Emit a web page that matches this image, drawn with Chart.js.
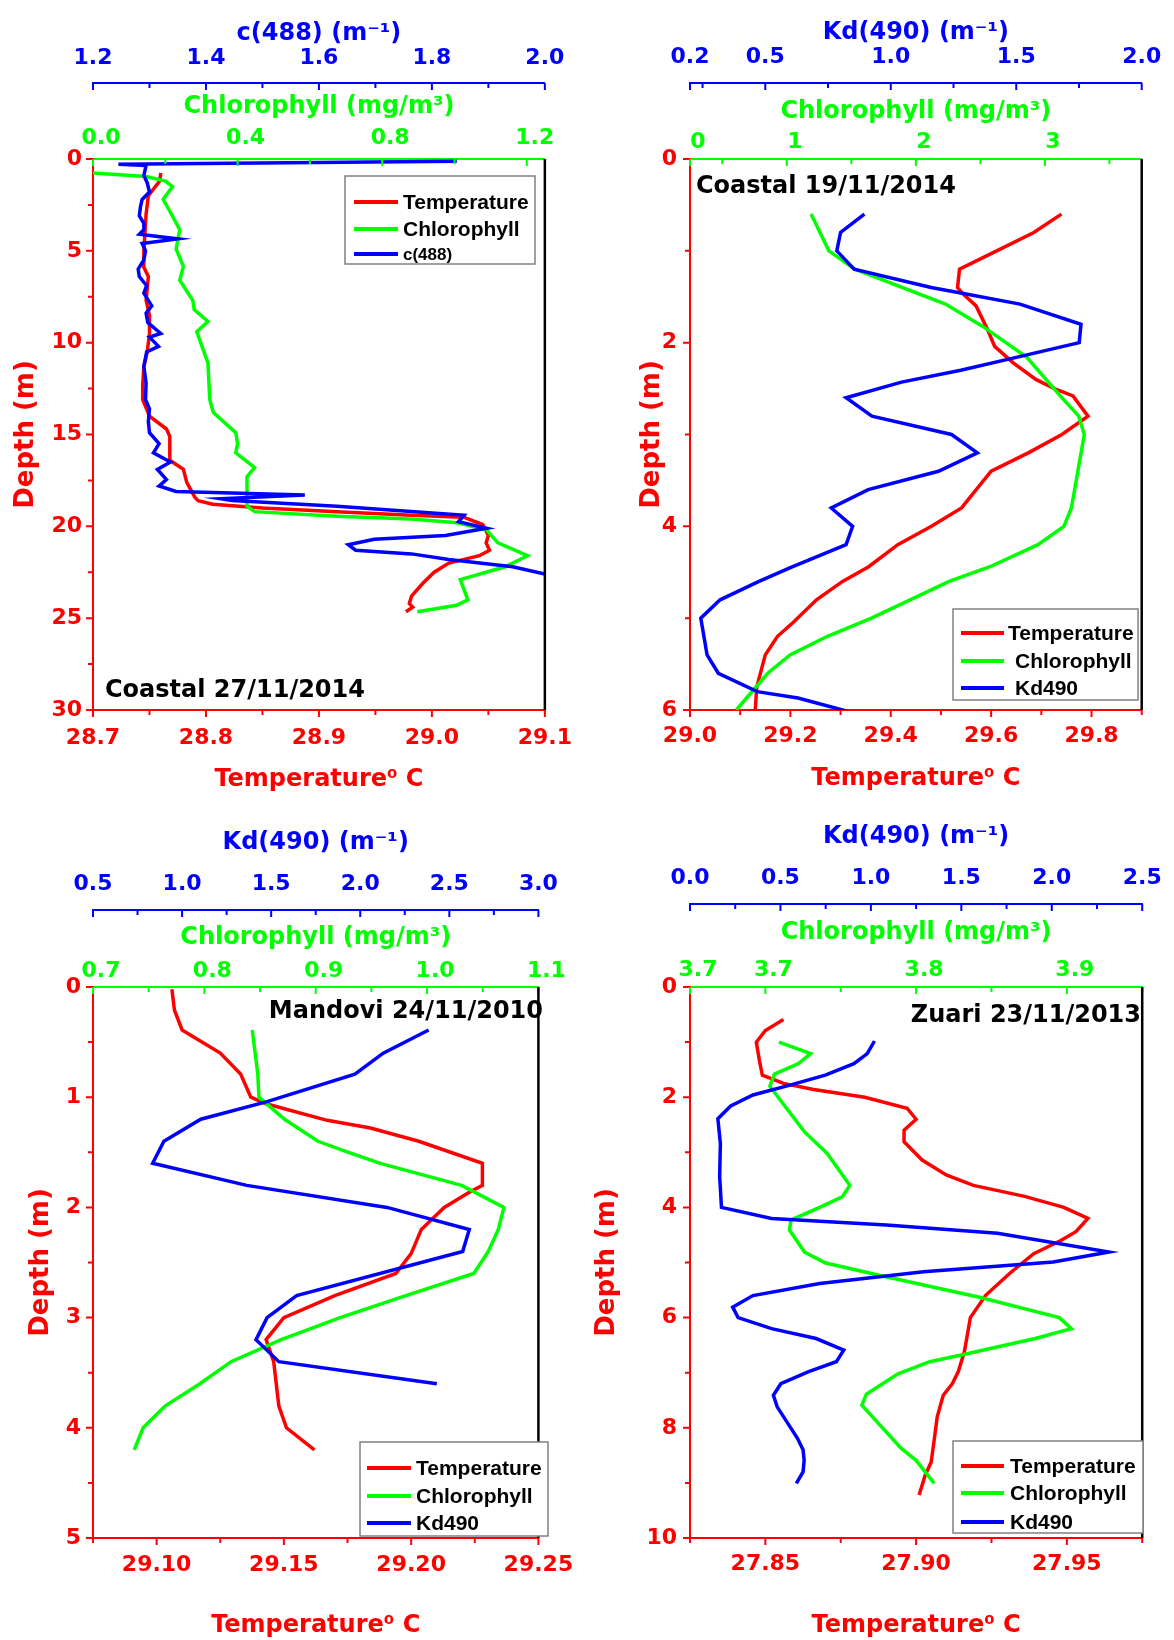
<!DOCTYPE html>
<html>
<head>
<meta charset="utf-8">
<title>Depth profiles</title>
<script src="https://cdn.jsdelivr.net/npm/chart.js@4.4.1/dist/chart.umd.min.js"></script>
<style>
  body { margin: 0; background: #fff; }
  #wrap { position: relative; width: 1174px; height: 1640px; overflow: hidden; }
  canvas { position: absolute; }
</style>
</head>
<body>
<div id="wrap">
  <canvas id="c1" width="587" height="800" style="left:0;top:0"></canvas>
  <canvas id="c2" width="587" height="800" style="left:587px;top:0"></canvas>
  <canvas id="c3" width="587" height="840" style="left:0;top:800px"></canvas>
  <canvas id="c4" width="587" height="840" style="left:587px;top:800px"></canvas>
</div>
<script>
// Coastal 27/11/2014
const c27TempDepth = [0.76,1.2,2.0,3.0,4.0,5.0,5.9,6.4,7.7,8.5,9.5,10.5,11.3,12.3,13.1,14.0,14.7,15.1,16.4,16.9,17.6,18.4,18.6,18.8,19.0,19.2,19.4,19.5,19.9,20.5,20.9,21.3,21.6,22.0,22.5,23.1,23.8,24.2,24.4,24.65];
const c27Temp = [28.760,28.759,28.749,28.747,28.746,28.745,28.745,28.749,28.747,28.750,28.750,28.748,28.745,28.744,28.744,28.750,28.765,28.768,28.768,28.780,28.783,28.790,28.793,28.806,28.850,28.916,28.982,29.028,29.045,29.050,29.048,29.051,29.042,29.015,29.002,28.992,28.982,28.980,28.983,28.977];
const c27ChlDepth = [0.76,0.95,1.2,1.5,2.2,2.9,3.85,4.9,5.85,6.6,7.7,8.2,8.85,9.4,11.1,13.1,13.8,14.9,15.5,16.0,16.8,17.3,18.9,19.2,19.45,19.6,19.8,20.2,20.9,21.6,22.2,22.9,24.0,24.3,24.65];
const c27Chl = [0.0,0.147,0.20,0.22,0.194,0.214,0.24,0.23,0.25,0.24,0.276,0.28,0.318,0.287,0.318,0.323,0.333,0.395,0.40,0.395,0.447,0.426,0.426,0.447,0.675,0.88,1.006,1.089,1.12,1.202,1.14,1.016,1.037,1.006,0.897];
const c27C488Depth = [0.12,0.28,0.35,0.9,1.3,1.8,2.2,2.6,3.1,3.5,3.85,4.1,4.35,4.6,5.0,5.5,6.0,6.4,6.9,7.3,8.0,8.4,8.9,9.5,9.7,10.2,10.5,11.3,12.2,13.1,13.6,14.3,14.9,15.5,16.0,16.5,16.9,17.45,17.8,18.1,18.3,18.5,18.6,18.9,19.4,19.75,20.1,20.5,20.7,21.0,21.3,21.5,21.8,22.2,22.6,22.7];
const c27C488 = [1.844,1.245,1.294,1.29,1.296,1.30,1.287,1.284,1.282,1.29,1.29,1.282,1.35,1.287,1.293,1.29,1.28,1.282,1.295,1.29,1.304,1.294,1.297,1.32,1.30,1.316,1.295,1.29,1.294,1.293,1.30,1.298,1.30,1.317,1.307,1.337,1.314,1.33,1.317,1.347,1.575,1.426,1.446,1.632,1.857,1.847,1.897,1.824,1.698,1.652,1.665,1.764,1.83,1.943,2.0,2.02];

// Coastal 19/11/2014
const c19TempDepth = [0.6,0.8,1.02,1.2,1.4,1.49,1.6,1.86,2.04,2.22,2.4,2.5,2.58,2.8,3.0,3.2,3.4,3.8,4.0,4.2,4.44,4.6,4.8,5.04,5.2,5.4,5.75,6.0];
const c19Temp = [29.74,29.685,29.604,29.537,29.533,29.548,29.57,29.593,29.607,29.644,29.689,29.726,29.763,29.793,29.741,29.674,29.60,29.541,29.481,29.414,29.356,29.304,29.252,29.207,29.174,29.15,29.133,29.13];
const c19ChlDepth = [0.6,1.0,1.2,1.58,1.82,2.16,2.58,2.8,3.0,3.8,4.0,4.2,4.44,4.6,5.0,5.2,5.4,5.6,6.0];
const c19Chl = [1.188,1.326,1.527,2.229,2.516,2.86,3.119,3.262,3.305,3.205,3.147,2.946,2.574,2.258,1.656,1.311,1.025,0.852,0.609];
const c19KdDepth = [0.6,0.8,1.0,1.2,1.4,1.46,1.58,1.8,2.0,2.16,2.3,2.43,2.6,2.8,3.0,3.2,3.4,3.6,3.8,4.0,4.2,4.45,4.6,4.8,5.0,5.4,5.6,5.8,5.87,6.02];
const c19Kd = [0.895,0.80,0.785,0.854,1.161,1.279,1.515,1.758,1.751,1.50,1.279,1.043,0.822,0.925,1.242,1.345,1.19,0.91,0.763,0.848,0.822,0.60,0.475,0.32,0.243,0.268,0.313,0.468,0.63,0.836];

// Mandovi 24/11/2010
const manTempDepth = [0.02,0.21,0.39,0.6,0.79,1.0,1.06,1.21,1.28,1.4,1.6,1.8,1.86,2.0,2.2,2.42,2.6,2.8,3.0,3.2,3.4,3.8,4.0,4.2];
const manTemp = [29.106,29.107,29.110,29.125,29.133,29.137,29.143,29.167,29.184,29.203,29.228,29.228,29.223,29.213,29.204,29.20,29.194,29.17,29.15,29.143,29.146,29.148,29.151,29.162];
const manChlDepth = [0.39,0.79,1.0,1.06,1.2,1.4,1.51,1.6,1.8,2.0,2.2,2.4,2.6,2.8,3.0,3.2,3.4,3.6,3.8,4.0,4.2];
const manChl = [0.843,0.848,0.849,0.856,0.872,0.902,0.932,0.958,1.031,1.069,1.064,1.055,1.042,0.981,0.922,0.869,0.824,0.796,0.765,0.745,0.737];
const manKdDepth = [0.39,0.6,0.79,1.04,1.2,1.4,1.6,1.8,2.0,2.2,2.4,2.8,3.0,3.2,3.4,3.6];
const manKd = [2.384,2.129,1.97,1.477,1.105,0.898,0.835,1.363,2.15,2.612,2.575,1.643,1.477,1.415,1.543,2.43];

// Zuari 23/11/2013
const zuaTempDepth = [0.59,0.79,1.0,1.33,1.6,1.75,1.86,2.0,2.2,2.4,2.6,2.81,3.14,3.41,3.6,3.8,4.0,4.2,4.44,4.6,4.84,5.2,5.6,6.0,6.62,6.98,7.2,7.41,7.8,8.22,8.62,8.86,9.22];
const zuaTemp = [27.856,27.850,27.847,27.848,27.849,27.856,27.866,27.883,27.897,27.900,27.896,27.896,27.902,27.910,27.919,27.936,27.949,27.957,27.953,27.948,27.939,27.931,27.923,27.918,27.916,27.914,27.912,27.909,27.907,27.906,27.905,27.903,27.901];
const zuaChlDepth = [1.0,1.21,1.39,1.58,1.8,2.2,2.63,3.02,3.6,3.81,4.0,4.23,4.41,4.81,5.01,5.26,5.63,6.0,6.2,6.38,6.68,6.8,7.02,7.39,7.59,8.37,8.59,9.01];
const zuaChl = [3.709,3.730,3.722,3.706,3.703,3.714,3.726,3.741,3.756,3.751,3.736,3.717,3.716,3.726,3.740,3.780,3.842,3.895,3.903,3.879,3.830,3.809,3.788,3.767,3.764,3.790,3.800,3.812];
const zuaKdDepth = [0.98,1.21,1.39,1.6,1.78,1.96,2.16,2.39,2.84,3.44,4.0,4.2,4.32,4.47,4.81,4.99,5.17,5.38,5.6,5.81,6.0,6.2,6.38,6.59,6.8,6.98,7.2,7.41,7.62,8.19,8.4,8.59,8.8,9.01];
const zuaKd = [1.02,0.98,0.906,0.748,0.553,0.348,0.225,0.154,0.168,0.164,0.174,0.451,1.086,1.70,2.316,2.008,1.291,0.717,0.348,0.236,0.266,0.451,0.697,0.85,0.809,0.656,0.502,0.461,0.482,0.594,0.625,0.631,0.625,0.588];

// tick labels
const c27TempLabels = ['28.7','28.8','28.9','29.0','29.1'];
const c27ChlLabels = ['0.0','0.4','0.8','1.2'];
const c27C488Labels = ['1.2','1.4','1.6','1.8','2.0'];
const c27DepthLabels = ['0','5','10','15','20','25','30'];
const c19TempLabels = ['29.0','29.2','29.4','29.6','29.8'];
const c19ChlLabels = ['0','1','2','3'];
const c19ChlLabelAt = [0.25, 1, 2, 3];
const c19KdLabels = ['0.2','0.5','1.0','1.5','2.0'];
const c19DepthLabels = ['0','2','4','6'];
const manTempLabels = ['29.10','29.15','29.20','29.25'];
const manChlLabels = ['0.7','0.8','0.9','1.0','1.1'];
const manKdLabels = ['0.5','1.0','1.5','2.0','2.5','3.0'];
const manDepthLabels = ['0','1','2','3','4','5'];
const zuaTempLabels = ['27.85','27.90','27.95'];
const zuaChlLabels = ['3.7','3.7','3.8','3.9'];
const zuaChlLabelAt = [3.65, 3.7, 3.8, 3.9];
const zuaKdLabels = ['0.0','0.5','1.0','1.5','2.0','2.5'];
const zuaDepthLabels = ['0','2','4','6','8','10'];

const RED = '#ff0000', GREEN = '#00ff00', BLUE = '#0000ff';
Chart.defaults.font.family = "'DejaVu Sans', sans-serif";
Chart.defaults.font.weight = 'bold';

function pts(depth, vals) {
  return vals.map((v, i) => ({ x: v, y: depth[i] }));
}

function steps(a, b, s) {
  const out = [];
  for (let i = 0; a + i * s <= b + 1e-9; i++) out.push(+(a + i * s).toFixed(4));
  return out;
}

// axis range, tick marks every `step` from `start`, labels where given
function axis(min, max, start, step, text, at) {
  const vals = at || text.map(Number);
  const marks = steps(start, max, step);
  vals.forEach(v => { if (!marks.some(m => Math.abs(m - v) < 1e-6)) marks.push(v); });
  marks.sort((a, b) => a - b);
  return {
    min, max, marks,
    label: v => {
      const i = vals.findIndex(l => Math.abs(l - v) < 1e-6);
      return i < 0 ? '' : text[i];
    }
  };
}

const panels = {
  c1: {
    temp: pts(c27TempDepth, c27Temp), chl: pts(c27ChlDepth, c27Chl), blue: pts(c27C488Depth, c27C488),
    blueName: 'c(488)', blueTitle: 'c(488) (m⁻¹)',
    tAx: axis(28.7, 29.1, 28.7, 0.05, c27TempLabels),
    cAx: axis(0, 1.25, 0, 0.2, c27ChlLabels),
    bAx: axis(1.2, 2.0, 1.2, 0.1, c27C488Labels),
    yAx: axis(0, 30, 0, 2.5, c27DepthLabels),
    L: { yW: 93, padR: 39, blueH: 83, greenH: 76, botH: 90,
         blueTitle: 19, blueTicks: 11.3, greenTitle: 9.1, greenTicks: 7.3,
         botTicks: 15, botTitle: 5.6, yTitle: 11, yTicks: 11 },
    label: { text: 'Coastal 27/11/2014', x: 105, y: 697, align: 'left' },
    legend: { x: 345, y: 176, w: 190, h: 88, rows: [202, 229, 254], lx: [354, 398], tx: 403,
              sizes: [21, 21, 17], indent: [0, 0, 0] }
  },
  c2: {
    temp: pts(c19TempDepth, c19Temp), chl: pts(c19ChlDepth, c19Chl), blue: pts(c19KdDepth, c19Kd),
    blueName: 'Kd490', blueTitle: 'Kd(490) (m⁻¹)',
    tAx: axis(29.0, 29.9, 29.0, 0.1, c19TempLabels),
    cAx: axis(0.25, 3.75, 0.5, 0.5, c19ChlLabels, c19ChlLabelAt),
    bAx: axis(0.2, 2.0, 0.25, 0.25, c19KdLabels),
    yAx: axis(0, 6, 0, 1, c19DepthLabels),
    L: { yW: 103, padR: 31, blueH: 83, greenH: 76, botH: 90,
         blueTitle: 18.6, blueTicks: 12.8, greenTitle: 14.6, greenTicks: 3.8,
         botTicks: 12.8, botTitle: 6.6, yTitle: 50, yTicks: 13 },
    label: { text: 'Coastal 19/11/2014', x: 109, y: 193, align: 'left' },
    legend: { x: 366, y: 609, w: 185, h: 91, rows: [633, 661, 688], lx: [374, 417], tx: 421,
              sizes: [21, 21, 21], indent: [0, 7, 7] }
  },
  c3: {
    temp: pts(manTempDepth, manTemp), chl: pts(manChlDepth, manChl), blue: pts(manKdDepth, manKd),
    blueName: 'Kd490', blueTitle: 'Kd(490) (m⁻¹)',
    tAx: axis(29.075, 29.25, 29.075, 0.025, manTempLabels),
    cAx: axis(0.7, 1.1, 0.7, 0.05, manChlLabels),
    bAx: axis(0.5, 3.0, 0.5, 0.25, manKdLabels),
    yAx: axis(0, 5, 0, 0.5, manDepthLabels),
    L: { yW: 93, padR: 39, blueH: 110, greenH: 77, botH: 102,
         blueTitle: 28.6, blueTicks: 12.3, greenTitle: 13.6, greenTicks: 2.8,
         botTicks: 13.8, botTitle: 0, yTitle: 26, yTicks: 12 },
    label: { text: 'Mandovi 24/11/2010', x: 543, y: 218, align: 'right' },
    legend: { x: 360, y: 642, w: 188, h: 94, rows: [668, 696, 723], lx: [367, 411], tx: 416,
              sizes: [21, 21, 21], indent: [0, 0, 0] }
  },
  c4: {
    temp: pts(zuaTempDepth, zuaTemp), chl: pts(zuaChlDepth, zuaChl), blue: pts(zuaKdDepth, zuaKd),
    blueName: 'Kd490', blueTitle: 'Kd(490) (m⁻¹)',
    tAx: axis(27.825, 27.975, 27.825, 0.025, zuaTempLabels),
    cAx: axis(3.65, 3.95, 3.65, 0.05, zuaChlLabels, zuaChlLabelAt),
    bAx: axis(0, 2.5, 0, 0.25, zuaKdLabels),
    yAx: axis(0, 10, 0, 1, zuaDepthLabels),
    L: { yW: 103, padR: 31, blueH: 104, greenH: 83, botH: 102,
         blueTitle: 22.6, blueTicks: 12.3, greenTitle: 14.6, greenTicks: 3.8,
         botTicks: 12.8, botTitle: 0, yTitle: 5, yTicks: 13 },
    label: { text: 'Zuari 23/11/2013', x: 554, y: 222, align: 'right' },
    legend: { x: 366, y: 641, w: 190, h: 92, rows: [666, 693, 722], lx: [374, 417], tx: 423,
              sizes: [21, 21, 21], indent: [0, 0, 0] }
  }
};

// tick marks (red outward, green/blue hanging down), right frame, panel title, legend box
const decor = {
  id: 'decor',
  afterDraw(chart) {
    const P = panels[chart.canvas.id];
    const ctx = chart.ctx, a = chart.chartArea;
    ctx.save();
    ctx.lineWidth = 2;
    [['x', RED], ['y', RED], ['x2', GREEN], ['x3', BLUE]].forEach(([sid, col]) => {
      const s = chart.scales[sid];
      ctx.strokeStyle = col;
      ctx.beginPath();
      s.ticks.forEach(t => {
        const len = t.label ? 7 : 5;
        const p = s.getPixelForValue(t.value);
        if (sid === 'y') { ctx.moveTo(s.right, p); ctx.lineTo(s.right - len, p); }
        else if (sid === 'x') { ctx.moveTo(p, s.top); ctx.lineTo(p, s.top + len); }
        else { ctx.moveTo(p, s.bottom); ctx.lineTo(p, s.bottom + len); }
      });
      ctx.stroke();
    });

    ctx.strokeStyle = '#000';
    ctx.lineWidth = 2.5;
    ctx.beginPath();
    ctx.moveTo(a.right, a.top);
    ctx.lineTo(a.right, a.bottom);
    ctx.stroke();

    ctx.fillStyle = '#000';
    ctx.font = "bold 24px 'DejaVu Sans'";
    ctx.textAlign = P.label.align;
    ctx.textBaseline = 'alphabetic';
    ctx.fillText(P.label.text, P.label.x, P.label.y);

    const g = P.legend;
    ctx.fillStyle = '#fff';
    ctx.fillRect(g.x, g.y, g.w, g.h);
    ctx.strokeStyle = '#808080';
    ctx.lineWidth = 1.5;
    ctx.strokeRect(g.x, g.y, g.w, g.h);
    ctx.textAlign = 'left';
    ctx.textBaseline = 'middle';
    chart.data.datasets.forEach((ds, i) => {
      ctx.strokeStyle = ds.borderColor;
      ctx.lineWidth = 4;
      ctx.beginPath();
      ctx.moveTo(g.lx[0], g.rows[i]);
      ctx.lineTo(g.lx[1], g.rows[i]);
      ctx.stroke();
      ctx.fillStyle = '#000';
      ctx.font = 'bold ' + g.sizes[i] + "px 'Liberation Sans'";
      ctx.fillText(ds.label, g.tx + g.indent[i], g.rows[i] + 1);
    });
    ctx.restore();
  }
};

function scaleOpts(spec, color, position, tickPad, extra, labelOffset) {
  return Object.assign({
    type: 'linear',
    position: position,
    min: spec.min,
    max: spec.max,
    afterBuildTicks: s => { s.ticks = spec.marks.map(v => ({ value: v })); },
    ticks: {
      autoSkip: false, maxRotation: 0, minRotation: 0,
      color: color, font: { size: 22 }, padding: tickPad,
      labelOffset: labelOffset || 0,
      callback: v => spec.label(v)
    },
    grid: { display: false, drawTicks: false },
    border: { display: true, color: color, width: 2 }
  }, extra);
}

function makePanel(id) {
  const P = panels[id], L = P.L;
  new Chart(document.getElementById(id), {
    type: 'line',
    data: {
      datasets: [
        { label: 'Temperature', data: P.temp, xAxisID: 'x', yAxisID: 'y', borderColor: RED, order: 2 },
        { label: 'Chlorophyll', data: P.chl, xAxisID: 'x2', yAxisID: 'y', borderColor: GREEN, order: 1 },
        { label: P.blueName, data: P.blue, xAxisID: 'x3', yAxisID: 'y', borderColor: BLUE, order: 0 }
      ]
    },
    options: {
      responsive: false,
      animation: false,
      events: [],
      layout: { padding: { left: 0, top: 0, right: L.padR, bottom: 0 } },
      elements: {
        line: { borderWidth: 3.5, tension: 0, fill: false },
        point: { radius: 0 }
      },
      plugins: { legend: { display: false }, tooltip: { enabled: false } },
      scales: {
        x: scaleOpts(P.tAx, RED, 'bottom', L.botTicks, {
          title: { display: true, text: 'Temperature⁰ C', color: RED, font: { size: 24 },
                   padding: { top: 0, bottom: L.botTitle } },
          afterFit: s => { s.height = L.botH; }
        }),
        x2: scaleOpts(P.cAx, GREEN, 'top', L.greenTicks, {
          weight: 0,
          title: { display: true, text: 'Chlorophyll (mg/m³)', color: GREEN, font: { size: 24 },
                   padding: { top: L.greenTitle, bottom: 0 } },
          afterFit: s => { s.height = L.greenH; }
        }, 8),
        x3: scaleOpts(P.bAx, BLUE, 'top', L.blueTicks, {
          weight: 10,
          title: { display: true, text: P.blueTitle, color: BLUE, font: { size: 24 },
                   padding: { top: L.blueTitle, bottom: 0 } },
          afterFit: s => { s.height = L.blueH; }
        }),
        y: scaleOpts(P.yAx, RED, 'left', L.yTicks, {
          reverse: true,
          title: { display: true, text: 'Depth (m)', color: RED, font: { size: 26 },
                   padding: { top: L.yTitle, bottom: 0 } },
          afterFit: s => { s.width = L.yW; }
        })
      }
    },
    plugins: [decor]
  });
}

['c1', 'c2', 'c3', 'c4'].forEach(makePanel);
</script>
</body>
</html>
